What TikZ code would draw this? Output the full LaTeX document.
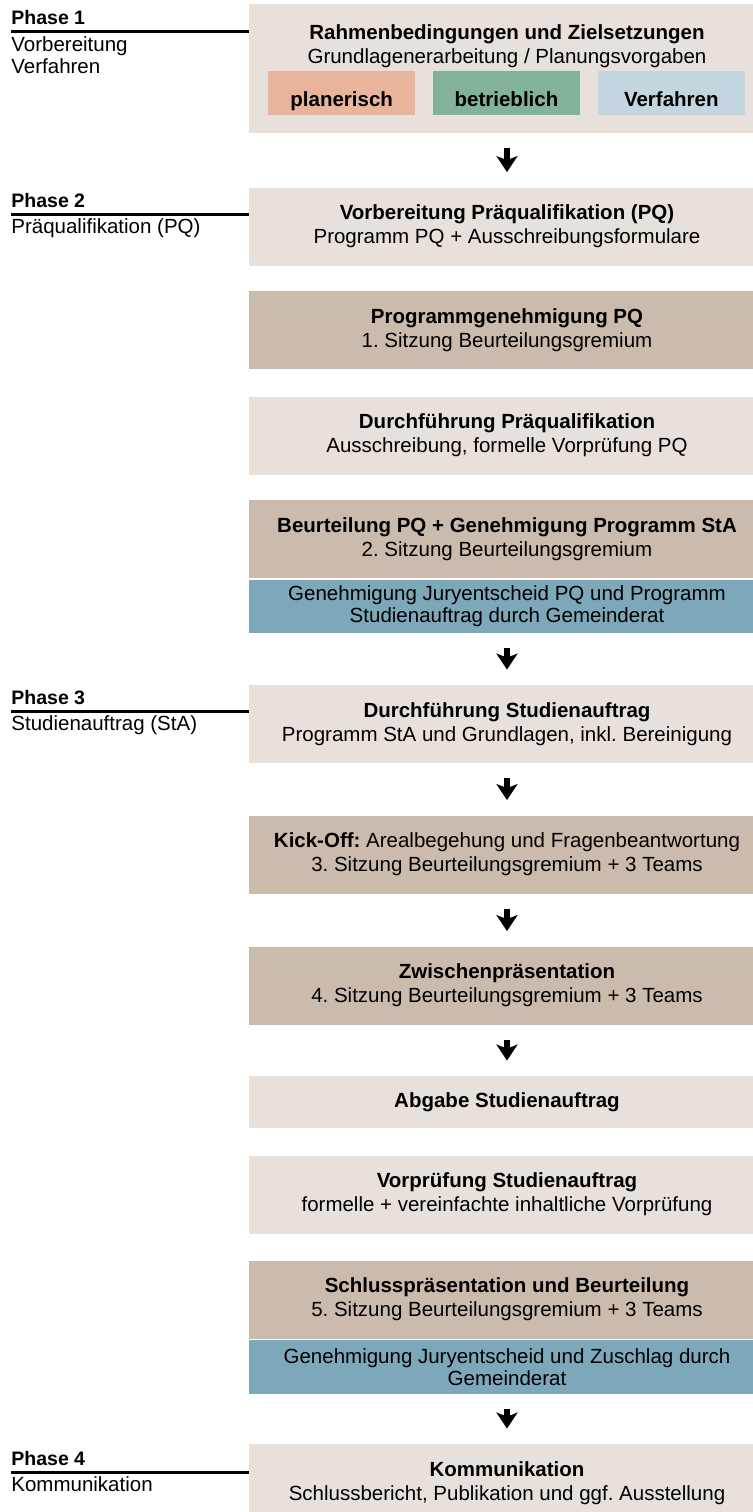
\documentclass[tikz,border=0pt]{standalone}
\usepackage{fontspec}
\setmainfont{Liberation Sans}
\usetikzlibrary{positioning,arrows.meta}
\frenchspacing
\definecolor{hell}{RGB}{232,224,218}
\definecolor{dunkel}{RGB}{203,187,173}
\definecolor{blau}{RGB}{125,168,186}
\definecolor{plan}{RGB}{232,180,156}
\definecolor{betr}{RGB}{130,178,153}
\definecolor{verf}{RGB}{195,214,223}
\tikzset{
  >= {Stealth[length=8pt,width=10.5pt,inset=2pt]},
  kb/.style={rectangle, inner sep=0pt, minimum width=258pt, align=center,
    font=\fontsize{10.25}{12}\selectfont},
  hb/.style={kb, fill=hell, minimum height=#1},
  hb/.default=39pt,
  db/.style={kb, fill=dunkel, minimum height=#1},
  db/.default=39pt,
  gb/.style={kb, fill=blau, minimum height=#1, font=\fontsize{10.25}{11}\selectfont},
  gb/.default=27pt,
  sb/.style={rectangle, inner sep=0pt, minimum width=73.5pt, minimum height=22pt,
    text height=13pt, text depth=0pt,
    font=\bfseries\fontsize{10.25}{12}\selectfont},
  ph/.style={anchor=base west, inner sep=0pt, font=\bfseries\fontsize{9.75}{11}\selectfont},
  lb/.style={anchor=north west, inner sep=0pt, align=left,
    font=\fontsize{10.25}{10.8}\selectfont},
  pline/.style={draw, line width=1.5pt},
  pf/.style={->, line width=3pt, shorten <=7.5pt, shorten >=7.5pt}
}
\begin{document}
\begin{tikzpicture}[x=0.5pt, y=-0.5pt]
  \useasboundingbox (0,0) rectangle (753,1512);

  % Phase 1
  \node[hb=64.5pt] (rahmen) at (507,68.5) {};
  \node[kb, minimum width=0pt, anchor=north] (rahmentxt) at (507,24.5)
    {\textbf{Rahmenbedingungen und Zielsetzungen}\\Grundlagenerarbeitung / Planungsvorgaben};
  \node[sb, fill=betr] (betrieblich) at (506.5,93) {betrieblich};
  \node[sb, fill=plan, left=8.5pt of betrieblich] (planerisch) {planerisch};
  \node[sb, fill=verf, right=8.5pt of betrieblich] (verfahren) {Verfahren};

  % Phase 2
  \node[hb] (vorbpq) at (507,226.5)
    {\textbf{Vorbereitung Präqualifikation (PQ)}\\Programm PQ + Ausschreibungsformulare};
  \node[db] (proggen) at (507,330)
    {\textbf{Programmgenehmigung PQ}\\1. Sitzung Beurteilungsgremium};
  \node[hb] (durchpq) at (507,435.5)
    {\textbf{Durchführung Präqualifikation}\\Ausschreibung, formelle Vorprüfung PQ};
  \node[db] (beurtpq) at (507,539)
    {\textbf{Beurteilung PQ + Genehmigung Programm StA}\\2. Sitzung Beurteilungsgremium};
  \node[gb=26.5pt] (gemrat1) at (507,606.5)
    {Genehmigung Juryentscheid PQ und Programm\\Studienauftrag durch Gemeinderat};

  % Phase 3
  \node[hb] (durchsta) at (507,724)
    {\textbf{Durchführung Studienauftrag}\\Programm StA und Grundlagen, inkl. Bereinigung};
  \node[db] (kickoff) at (507,854.5)
    {\textbf{Kick-Off:} Arealbegehung und Fragenbeantwortung\\3. Sitzung Beurteilungsgremium + 3 Teams};
  \node[db] (zwischen) at (507,985.5)
    {\textbf{Zwischenpräsentation}\\4. Sitzung Beurteilungsgremium + 3 Teams};
  \node[hb=26pt] (abgabe) at (507,1102) {\textbf{Abgabe Studienauftrag}};
  \node[hb] (vorpr) at (507,1194.5)
    {\textbf{Vorprüfung Studienauftrag}\\formelle + vereinfachte inhaltliche Vorprüfung};
  \node[db] (schluss) at (507,1299.5)
    {\textbf{Schlusspräsentation und Beurteilung}\\5. Sitzung Beurteilungsgremium + 3 Teams};
  \node[gb] (gemrat2) at (507,1367)
    {Genehmigung Juryentscheid und Zuschlag durch\\Gemeinderat};

  % Phase 4
  \node[hb] (komm) at (507,1483)
    {\textbf{Kommunikation}\\Schlussbericht, Publikation und ggf. Ausstellung};

  \path[pf] (rahmen) edge (vorbpq);
  \path[pf] (gemrat1) edge (durchsta);
  \path[pf] (durchsta) edge (kickoff);
  \path[pf] (kickoff) edge (zwischen);
  \path[pf] (zwischen) edge (abgabe);
  \path[pf] (gemrat2) edge (komm);

  % Phasen links
  \coordinate (p1) at (11,31);
  \coordinate (p2) at (11,214);
  \coordinate (p3) at (11,711);
  \coordinate (p4) at (11,1472);
  \path[pline] (p1) -- (p1 -| rahmen.west);
  \path[pline] (p2) -- (p2 -| vorbpq.west);
  \path[pline] (p3) -- (p3 -| durchsta.west);
  \path[pline] (p4) -- (p4 -| komm.west);
  \node[ph] (ph1) at ([yshift=3.25pt]p1) {Phase 1};
  \node[ph] (ph2) at ([yshift=3.25pt]p2) {Phase 2};
  \node[ph] (ph3) at ([yshift=3.25pt]p3) {Phase 3};
  \node[ph] (ph4) at ([yshift=3.25pt]p4) {Phase 4};
  \node[lb] (lb1) at ([yshift=-2.75pt]p1) {Vorbereitung\\Verfahren};
  \node[lb] (lb2) at ([yshift=-2.25pt]p2) {Präqualifikation (PQ)};
  \node[lb] (lb3) at ([yshift=-2.25pt]p3) {Studienauftrag (StA)};
  \node[lb] (lb4) at ([yshift=-2.25pt]p4) {Kommunikation};
\end{tikzpicture}
\end{document}
